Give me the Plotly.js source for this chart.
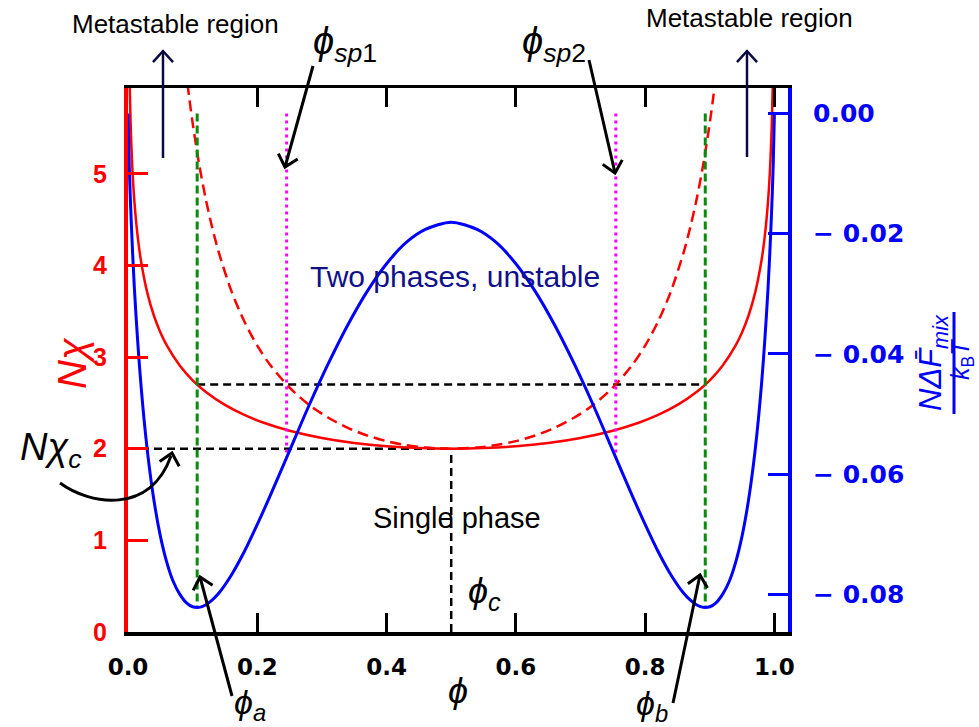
<!DOCTYPE html>
<html><head><meta charset="utf-8">
<script src="https://cdn.plot.ly/plotly-3.0.1.min.js"></script>
<style>html,body{margin:0;padding:0;background:#fff}#chart{width:979px;height:727px}</style>
</head><body><div id="chart"></div>
<script>
// ---------- data ----------
// blue: N*dF_mix/kT at N*chi = 2.7 (right axis)
const phiF = [0, 0.002, 0.005, 0.01, 0.02, 0.03, 0.04, 0.05, 0.06, 0.07, 0.08, 0.09, 0.10, 0.11, 0.12, 0.13, 0.14, 0.16, 0.18, 0.20, 0.22, 0.25, 0.28, 0.31, 0.34, 0.37, 0.40, 0.43, 0.46, 0.50,
  0.54, 0.57, 0.60, 0.63, 0.66, 0.69, 0.72, 0.75, 0.78, 0.80, 0.82, 0.84, 0.86, 0.87, 0.88, 0.89, 0.90, 0.91, 0.92, 0.93, 0.94, 0.95, 0.96, 0.97, 0.98, 0.99, 0.995, 0.998, 1.0];
const freeEnergy = [0, -0.0090, -0.0180, -0.0293, -0.0451, -0.0562, -0.0643, -0.0703, -0.0747, -0.0779, -0.0800, -0.0814, -0.0821, -0.0822, -0.0818, -0.0810, -0.0799, -0.0768, -0.0729, -0.0684, -0.0636, -0.0561, -0.0486, -0.0416, -0.0352, -0.0296, -0.0250, -0.0215, -0.0193, -0.0181,
  -0.0193, -0.0215, -0.0250, -0.0296, -0.0352, -0.0416, -0.0486, -0.0561, -0.0636, -0.0684, -0.0729, -0.0768, -0.0799, -0.0810, -0.0818, -0.0822, -0.0821, -0.0814, -0.0800, -0.0779, -0.0747, -0.0703, -0.0643, -0.0562, -0.0451, -0.0293, -0.0180, -0.0090, 0];
// red solid: binodal (left axis)
const phiBin = [0.0027, 0.003, 0.004, 0.005, 0.007, 0.01, 0.015, 0.02, 0.03, 0.04, 0.05, 0.06, 0.08, 0.10, 0.12, 0.15, 0.18, 0.21, 0.25, 0.30, 0.35, 0.40, 0.45, 0.50,
  0.55, 0.60, 0.65, 0.70, 0.75, 0.79, 0.82, 0.85, 0.88, 0.90, 0.92, 0.94, 0.95, 0.96, 0.97, 0.98, 0.985, 0.99, 0.993, 0.995, 0.996, 0.997, 0.9973];
const chiBin = [5.944, 5.841, 5.562, 5.347, 5.025, 4.689, 4.314, 4.054, 3.698, 3.454, 3.272, 3.127, 2.908, 2.747, 2.622, 2.478, 2.369, 2.284, 2.197, 2.118, 2.063, 2.027, 2.007, 2.000,
  2.007, 2.027, 2.063, 2.118, 2.197, 2.284, 2.369, 2.478, 2.622, 2.747, 2.908, 3.127, 3.272, 3.454, 3.698, 4.054, 4.314, 4.689, 5.025, 5.347, 5.562, 5.841, 5.944];
// red dashed: spinodal (left axis)
const phiSpin = [0.092, 0.095, 0.10, 0.11, 0.12, 0.13, 0.14, 0.16, 0.18, 0.20, 0.22, 0.25, 0.28, 0.31, 0.34, 0.37, 0.40, 0.43, 0.46, 0.50,
  0.54, 0.57, 0.60, 0.63, 0.66, 0.69, 0.72, 0.75, 0.78, 0.80, 0.82, 0.84, 0.86, 0.87, 0.88, 0.89, 0.90, 0.905, 0.908];
const chiSpin = [5.985, 5.816, 5.556, 5.107, 4.735, 4.421, 4.153, 3.720, 3.388, 3.125, 2.914, 2.667, 2.480, 2.338, 2.228, 2.145, 2.083, 2.040, 2.013, 2.000,
  2.013, 2.040, 2.083, 2.145, 2.228, 2.338, 2.480, 2.667, 2.914, 3.125, 3.388, 3.720, 4.153, 4.421, 4.735, 5.107, 5.556, 5.816, 5.985];
// marked points
const phiA = 0.107, phiB = 0.893;        // coexistence (green)
const phiSp1 = 0.2454, phiSp2 = 0.7546;  // spinodal (magenta)
const phiC = 0.5;
const chiOp = 2.7, chiC = 2.0;
const fTop = 0, fAtBinodal = -0.0822, fAtSpinodal = -0.0572;
// tick labels
const xTickVals = [0, 0.2, 0.4, 0.6, 0.8, 1.0];
const xTickText = ['0.0', '0.2', '0.4', '0.6', '0.8', '1.0'];
const yTickVals = [0, 1, 2, 3, 4, 5];
const y2TickVals = [0, -0.02, -0.04, -0.06, -0.08];
const y2TickText = ['0.00', '\u2212 0.02', '\u2212 0.04', '\u2212 0.06', '\u2212 0.08'];

// ---------- layout helpers (pixel -> paper) ----------
const W = 979, H = 727, L = 128, R = 788, T = 88, B = 632;
const px = X => (X - L) / (R - L);
const py = Y => (B - Y) / (B - T);

const RED = '#ff0000', BLUE = '#0000ff', GREEN = '#0a8a0a', MAG = '#ff00ff', NAVY = '#0a0a40';

const traces = [
  {x: [phiA, phiB], y: [chiOp, chiOp], mode: 'lines', line: {color: 'black', width: 2.5, dash: '8px,5px'}},
  {x: [0, phiC], y: [chiC, chiC], mode: 'lines', line: {color: 'black', width: 2.5, dash: '8px,5px'}},
  {x: [phiC, phiC], y: [0, chiC], mode: 'lines', line: {color: 'black', width: 2.5, dash: '8px,5px'}},
  {x: phiSpin, y: chiSpin, mode: 'lines', line: {color: RED, width: 2.5, dash: '11px,6px', shape: 'spline', smoothing: 0.8}},
  {x: phiBin, y: chiBin, mode: 'lines', line: {color: RED, width: 2.5, shape: 'spline', smoothing: 0.8}},
  {x: [phiA, phiA], y: [fTop, fAtBinodal], yaxis: 'y2', mode: 'lines', line: {color: GREEN, width: 3, dash: '8px,4px'}},
  {x: [phiB, phiB], y: [fTop, fAtBinodal], yaxis: 'y2', mode: 'lines', line: {color: GREEN, width: 3, dash: '8px,4px'}},
  {x: [phiSp1, phiSp1], y: [fTop, fAtSpinodal], yaxis: 'y2', mode: 'lines', line: {color: MAG, width: 3, dash: '3px,4px'}},
  {x: [phiSp2, phiSp2], y: [fTop, fAtSpinodal], yaxis: 'y2', mode: 'lines', line: {color: MAG, width: 3, dash: '3px,4px'}},
  {x: phiF, y: freeEnergy, yaxis: 'y2', mode: 'lines', line: {color: BLUE, width: 3, shape: 'spline', smoothing: 0.8}}
];

const SANS = 'Liberation Sans, Arial, sans-serif';
const PHI = '\u03D5';

function txt(text, X, Y, size, color, extra) {
  return Object.assign({text: text, xref: 'paper', yref: 'paper', x: px(X), y: py(Y),
    xanchor: 'center', yanchor: 'middle', showarrow: false,
    font: {family: SANS, size: size, color: color || 'black'}}, extra || {});
}

const shapes = [];
// arrow = shaft line + open chevron head, drawn as layout shapes
function arrow(tailX, tailY, tipX, tipY, color, w, noShaft) {
  color = color || 'black'; w = w || 3;
  const dx = tipX - tailX, dy = tipY - tailY, len = Math.hypot(dx, dy);
  const ux = dx / len, uy = dy / len, h = 15, a = 42 * Math.PI / 180;
  const p = s => {
    const c = Math.cos(s * a), sn = Math.sin(s * a);
    const rx = ux * c - uy * sn, ry = ux * sn + uy * c;
    return [tipX - h * rx, tipY - h * ry];
  };
  const p1 = p(1), p2 = p(-1);
  if (!noShaft) {
    shapes.push({type: 'line', xref: 'paper', yref: 'paper', x0: px(tailX), y0: py(tailY), x1: px(tipX), y1: py(tipY),
      line: {color: color, width: w}});
  }
  shapes.push({type: 'path', xref: 'paper', yref: 'paper',
    path: 'M' + px(p1[0]) + ',' + py(p1[1]) + ' L' + px(tipX) + ',' + py(tipY) + ' L' + px(p2[0]) + ',' + py(p2[1]),
    line: {color: color, width: w}});
}

arrow(163, 158, 163, 51, NAVY, 2.5);
arrow(747, 157, 747, 51, NAVY, 2.5);
arrow(313, 66, 285, 167);
arrow(589, 60, 615, 173);
arrow(232, 696, 200, 577);
arrow(673, 703, 700, 575);
arrow(167, 474, 172, 453, 'black', 3, true);
shapes.push({type: 'path', xref: 'paper', yref: 'paper',
  path: 'M' + px(60) + ',' + py(483) + ' C' + px(90) + ',' + py(505) + ' ' + px(150) + ',' + py(515) + ' ' + px(171) + ',' + py(456),
  line: {color: 'black', width: 3}});
// fraction bar of the right axis title
shapes.push({type: 'line', xref: 'paper', yref: 'paper', x0: px(954), x1: px(954), y0: py(312), y1: py(414),
  line: {color: BLUE, width: 3}});

const annotations = [
  txt('Metastable region', 175, 24, 26),
  txt('Metastable region', 749, 18, 26),
  txt('<i>' + PHI + '</i><sub><i>sp</i>1</sub>', 345, 44, 38),
  txt('<i>' + PHI + '</i><sub><i>sp</i>2</sub>', 554, 44, 38),
  txt('Two phases, unstable', 455, 276, 30, '#10108a'),
  txt('Single phase', 457, 518, 29),
  txt('<i>' + PHI + '<sub>c</sub></i>', 484, 593, 36),
  txt('<i>' + PHI + '<sub>a</sub></i>', 250, 704, 34),
  txt('<i>' + PHI + '<sub>b</sub></i>', 652, 705, 34),
  txt('<i>N\u03C7<sub>c</sub></i>', 50, 450, 38),
  txt('<i>' + PHI + '</i>', 458, 690, 36),
  txt('<i>N\u03C7</i>', 72, 363, 40, RED, {textangle: -90}),
  txt('<i>N\u0394F\u0304<sub>mix</sub></i>', 933, 363, 31, BLUE, {textangle: -90}),
  txt('<i>k</i><sub>B</sub><i>T</i>', 962, 360, 25, BLUE, {textangle: -90})
];

const layout = {
  width: W, height: H,
  margin: {l: L, r: W - R, t: T, b: H - B, pad: 0},
  paper_bgcolor: 'white', plot_bgcolor: 'white',
  showlegend: false,
  xaxis: {range: [0, 1.021], tickvals: xTickVals, ticktext: xTickText,
    ticks: 'inside', ticklen: 19, tickwidth: 3, tickcolor: 'black',
    showline: true, linecolor: 'black', linewidth: 3.5, mirror: 'ticks',
    showgrid: false, zeroline: false, ticklabelstandoff: 12,
    tickfont: {family: 'DejaVu Sans', size: 23, color: 'black', weight: 'bold'}},
  yaxis: {range: [0, 5.937], tickvals: yTickVals,
    ticks: 'inside', ticklen: 20, tickwidth: 3, tickcolor: RED,
    showline: true, linecolor: RED, linewidth: 4,
    showgrid: false, zeroline: false, ticklabelstandoff: 12,
    tickfont: {family: SANS, size: 25, color: RED, weight: 'bold'}},
  yaxis2: {range: [-0.0863, 0.00425], overlaying: 'y', side: 'right',
    tickvals: y2TickVals, ticktext: y2TickText,
    ticks: 'inside', ticklen: 20, tickwidth: 3, tickcolor: BLUE,
    showline: true, linecolor: BLUE, linewidth: 4,
    showgrid: false, zeroline: false, ticklabelstandoff: 16,
    tickfont: {family: 'DejaVu Sans', size: 25, color: BLUE, weight: 'bold'}},
  annotations: annotations,
  shapes: shapes
};

Plotly.newPlot('chart', traces, layout, {staticPlot: true, displayModeBar: false});
</script>
</body></html>
